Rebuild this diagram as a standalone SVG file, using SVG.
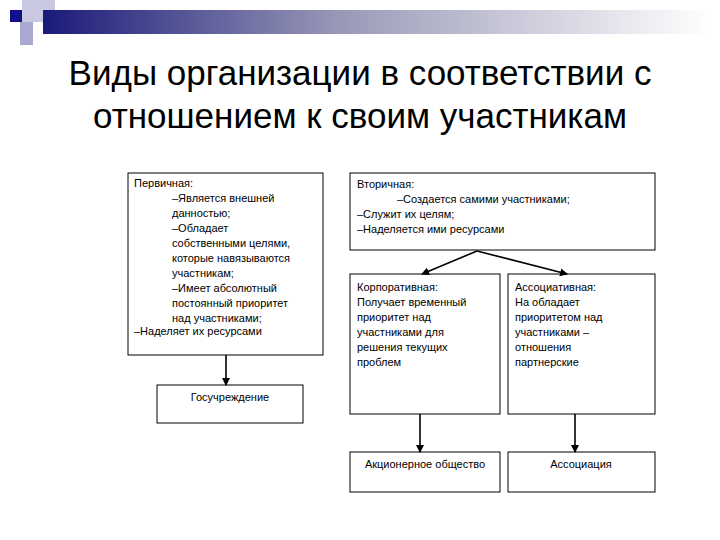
<svg xmlns="http://www.w3.org/2000/svg" width="720" height="540" viewBox="0 0 720 540">
<defs>
<linearGradient id="bar" x1="0" x2="1" y1="0" y2="0">
<stop offset="0" stop-color="#1a1a7a"/><stop offset="0.45" stop-color="#9a9ab8"/><stop offset="1" stop-color="#ffffff"/>
</linearGradient>
<marker id="ah" markerWidth="8" markerHeight="8" refX="7" refY="4" orient="auto" markerUnits="userSpaceOnUse">
<path d="M0,0 L8,4 L0,8 z" fill="#000"/>
</marker>
<style>
.box{fill:#fff;stroke:#000;stroke-width:1}
.t{font-family:"Liberation Sans",Arial,sans-serif;font-size:11px;fill:#000}
.title{font-family:"Liberation Sans",Arial,sans-serif;font-size:35px;fill:#000;text-anchor:middle}
.c line{stroke:#000;stroke-width:1.6;fill:none;marker-end:url(#ah)}
</style>
</defs>
<rect width="720" height="540" fill="#fff"/>
<g id="decor">
<rect x="22" y="0" width="33" height="22" fill="#c8c8e0"/>
<rect x="20" y="22" width="13" height="23" fill="#a8a8d0"/>
<rect x="43" y="10" width="667" height="24" fill="url(#bar)"/>
<rect x="10" y="10" width="12" height="12" fill="#10108a"/>
</g>
<text class="title" x="360" y="85">Виды организации в соответствии с</text>
<text class="title" x="360" y="128">отношением к своим участникам</text>
<g id="primary">
<rect class="box" x="128" y="173" width="195" height="182"/>
<text class="t"><tspan x="134" y="187">Первичная:</tspan><tspan x="172" y="202">–Является внешней</tspan><tspan x="172" y="217">данностью;</tspan><tspan x="172" y="232">–Обладает</tspan><tspan x="172" y="247">собственными целями,</tspan><tspan x="172" y="262">которые навязываются</tspan><tspan x="172" y="277">участникам;</tspan><tspan x="172" y="292">–Имеет абсолютный</tspan><tspan x="172" y="307">постоянный приоритет</tspan><tspan x="172" y="322">над участниками;</tspan><tspan x="134" y="335">–Наделяет их ресурсами</tspan></text>
</g>
<g id="gos">
<rect class="box" x="157" y="385" width="146" height="38"/>
<text class="t" x="230" y="401" text-anchor="middle">Госучреждение</text>
</g>
<g id="secondary">
<rect class="box" x="350" y="173" width="305" height="77"/>
<text class="t"><tspan x="357" y="188">Вторичная:</tspan><tspan x="397" y="203">–Создается самими участниками;</tspan><tspan x="357" y="218">–Служит их целям;</tspan><tspan x="357" y="233">–Наделяется ими ресурсами</tspan></text>
</g>
<g id="corp">
<rect class="box" x="350" y="274" width="150" height="140"/>
<text class="t"><tspan x="357" y="291">Корпоративная:</tspan><tspan x="357" y="306">Получает временный</tspan><tspan x="357" y="321">приоритет над</tspan><tspan x="357" y="336">участниками для</tspan><tspan x="357" y="351">решения текущих</tspan><tspan x="357" y="366">проблем</tspan></text>
</g>
<g id="assocType">
<rect class="box" x="508" y="274" width="147" height="140"/>
<text class="t"><tspan x="515" y="291">Ассоциативная:</tspan><tspan x="515" y="306">На обладает</tspan><tspan x="515" y="321">приоритетом над</tspan><tspan x="515" y="336">участниками –</tspan><tspan x="515" y="351">отношения</tspan><tspan x="515" y="366">партнерские</tspan></text>
</g>
<g id="ao">
<rect class="box" x="350" y="452" width="150" height="40"/>
<text class="t" x="425" y="468" text-anchor="middle">Акционерное общество</text>
</g>
<g id="assoc">
<rect class="box" x="508" y="452" width="147" height="40"/>
<text class="t" x="581" y="468" text-anchor="middle">Ассоциация</text>
</g>
<g id="connectors" class="c">
<line x1="226" y1="355" x2="226" y2="385"/>
<line x1="477" y1="251" x2="422" y2="274"/>
<line x1="477" y1="251" x2="567" y2="274"/>
<line x1="420" y1="414" x2="420" y2="452"/>
<line x1="575" y1="414" x2="575" y2="452"/>
</g>
</svg>
